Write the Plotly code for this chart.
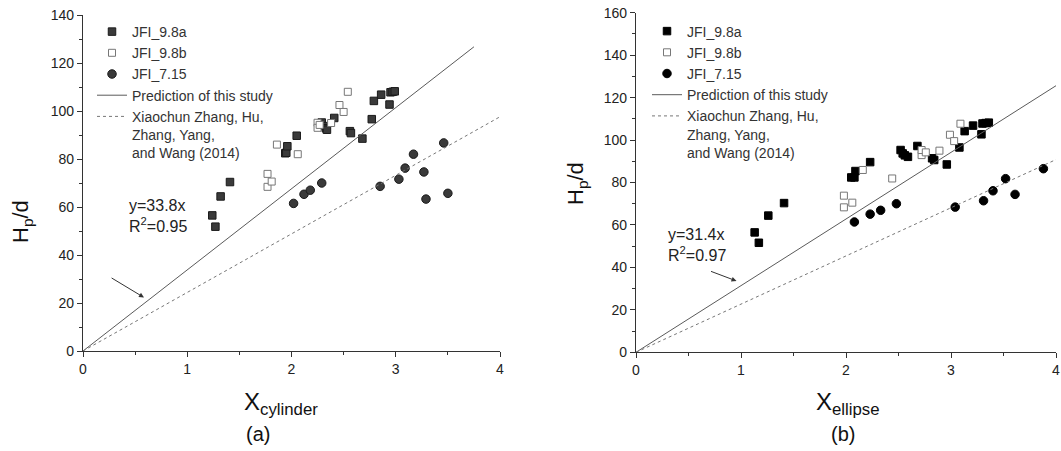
import plotly.graph_objects as go

W, H = 1061, 451
FONT = "Liberation Sans, Arial, sans-serif"

# ---------------- data : panel (a) ----------------
a_98a_x = [1.24, 1.27, 1.32, 1.41, 1.94, 1.95, 1.96, 2.05, 2.29, 2.31, 2.33, 2.34,
           2.41, 2.56, 2.57, 2.68, 2.77, 2.79, 2.86, 2.94, 2.95, 2.97, 2.99]
a_98a_y = [56.5, 51.8, 64.4, 70.4, 82.4, 82.6, 85.3, 89.7, 95.2, 93.7, 92.8, 92.2,
           97.1, 91.6, 90.8, 88.5, 96.6, 104.2, 106.8, 102.7, 107.8, 108.0, 108.2]
a_98b_x = [1.77, 1.77, 1.81, 1.86, 2.06, 2.25, 2.25, 2.27, 2.38, 2.46, 2.50, 2.54]
a_98b_y = [73.8, 68.4, 70.6, 86.0, 82.0, 95.1, 93.0, 94.2, 95.0, 102.5, 99.6, 108.0]
a_715_x = [2.02, 2.12, 2.18, 2.29, 2.85, 3.03, 3.09, 3.17, 3.27, 3.29, 3.46, 3.50]
a_715_y = [61.5, 65.3, 67.0, 70.0, 68.6, 71.6, 76.2, 82.0, 74.6, 63.3, 86.7, 65.7]
a_pred_x = [0, 3.75]
a_pred_y = [0, 126.75]
a_zhang_x = [0, 4]
a_zhang_y = [0, 97.6]

# ---------------- data : panel (b) ----------------
b_98a_x = [1.13, 1.17, 1.26, 1.41, 2.05, 2.08, 2.09, 2.23, 2.52, 2.54, 2.56, 2.59,
           2.68, 2.82, 2.84, 2.96, 3.08, 3.13, 3.21, 3.29, 3.30, 3.33, 3.36]
b_98a_y = [56.5, 51.6, 64.4, 70.3, 82.4, 82.4, 85.4, 89.6, 95.3, 93.7, 92.8, 92.1,
           97.2, 91.4, 90.6, 88.5, 96.5, 104.2, 106.8, 102.7, 107.8, 108.0, 108.2]
b_98b_x = [1.98, 1.98, 2.06, 2.16, 2.44, 2.72, 2.72, 2.76, 2.89, 2.99, 3.03, 3.09]
b_98b_y = [73.8, 68.3, 70.5, 85.9, 81.9, 92.9, 95.3, 94.2, 95.0, 102.5, 99.5, 107.7]
b_715_x = [2.08, 2.23, 2.33, 2.48, 3.04, 3.31, 3.40, 3.52, 3.61, 3.88]
b_715_y = [61.4, 65.1, 66.9, 70.0, 68.4, 71.4, 76.1, 81.8, 74.4, 86.5]
b_pred_x = [0, 4]
b_pred_y = [0, 125.6]
b_zhang_x = [0, 4]
b_zhang_y = [0, 90.8]

names = ["JFI_9.8a", "JFI_9.8b", "JFI_7.15", "Prediction of this study",
         "Xiaochun Zhang, Hu,<br>Zhang, Yang,<br>and Wang (2014)"]
eq_a = "y=33.8x<br>R<sup>2</sup>=0.95"
eq_b = "y=31.4x<br>R<sup>2</sup>=0.97"

fig = go.Figure()


def add_panel(xa, ya, leg, d98a, d98b, d715, pred, zhang, fill, edge):
    fig.add_trace(go.Scatter(x=d98a[0], y=d98a[1], mode="markers", name=names[0],
                             xaxis=xa, yaxis=ya, legend=leg,
                             marker=dict(symbol="square", size=7.5, color=fill,
                                         line=dict(color=edge, width=1))))
    fig.add_trace(go.Scatter(x=d98b[0], y=d98b[1], mode="markers", name=names[1],
                             xaxis=xa, yaxis=ya, legend=leg,
                             marker=dict(symbol="square", size=7, color="white",
                                         line=dict(color="#777777", width=1))))
    fig.add_trace(go.Scatter(x=d715[0], y=d715[1], mode="markers", name=names[2],
                             xaxis=xa, yaxis=ya, legend=leg,
                             marker=dict(symbol="circle", size=8.5, color=fill,
                                         line=dict(color=edge, width=1))))
    fig.add_trace(go.Scatter(x=pred[0], y=pred[1], mode="lines", name=names[3],
                             xaxis=xa, yaxis=ya, legend=leg,
                             line=dict(color="#5a5a5a", width=1)))
    fig.add_trace(go.Scatter(x=zhang[0], y=zhang[1], mode="lines", name=names[4],
                             xaxis=xa, yaxis=ya, legend=leg,
                             line=dict(color="#777777", width=1, dash="dot")))


add_panel("x", "y", "legend", (a_98a_x, a_98a_y), (a_98b_x, a_98b_y),
          (a_715_x, a_715_y), (a_pred_x, a_pred_y), (a_zhang_x, a_zhang_y),
          "#3a3a3a", "#1a1a1a")
add_panel("x2", "y2", "legend2", (b_98a_x, b_98a_y), (b_98b_x, b_98b_y),
          (b_715_x, b_715_y), (b_pred_x, b_pred_y), (b_zhang_x, b_zhang_y),
          "#000000", "#000000")


def axis(domain, rng, dtick, minor, anchor):
    return dict(domain=domain, range=rng, dtick=dtick, tick0=0, anchor=anchor,
                automargin=False,
                showgrid=False, zeroline=False, showline=True, linecolor="#333333",
                linewidth=1.2, ticks="outside", ticklen=5, tickcolor="#333333",
                tickwidth=1.2, tickfont=dict(family=FONT, size=14, color="#222222"),
                minor=dict(ticks="outside", ticklen=3, dtick=minor, tickcolor="#333333",
                           tickwidth=1, showgrid=False),
                fixedrange=True)


def px_x(p):
    return p / W


def px_y(p):
    return 1 - p / H


legend_common = dict(bgcolor="rgba(0,0,0,0)", valign="top", tracegroupgap=0,
                     itemwidth=30, xanchor="left", yanchor="top",
                     font=dict(family=FONT, size=14, color="#333333"))

fig.update_layout(
    width=W, height=H,
    margin=dict(l=0, r=0, t=0, b=0, autoexpand=False),
    paper_bgcolor="white", plot_bgcolor="white",
    font=dict(family=FONT, color="#222222"),
    xaxis=axis([px_x(83), px_x(500)], [0, 4], 1, 0.5, "y"),
    yaxis=axis([px_y(351), px_y(15)], [0, 140], 20, 10, "x"),
    xaxis2=axis([px_x(636), px_x(1056)], [0, 4], 1, 0.5, "y2"),
    yaxis2=axis([px_y(352.3), px_y(12.7)], [0, 160], 20, 10, "x2"),
    legend=dict(x=px_x(92), y=px_y(16), **legend_common),
    legend2=dict(x=px_x(647), y=px_y(15.5), **legend_common),
    showlegend=True,
)

ann = []
# equations
ann.append(dict(text=eq_a, x=px_x(127), y=px_y(216), xref="paper", yref="paper",
                xanchor="left", yanchor="middle", align="left", showarrow=False,
                font=dict(family=FONT, size=16, color="#222222")))
ann.append(dict(text=eq_b, x=px_x(666), y=px_y(245), xref="paper", yref="paper",
                xanchor="left", yanchor="middle", align="left", showarrow=False,
                font=dict(family=FONT, size=16, color="#222222")))
# arrows
ann.append(dict(x=0.585, y=22.3, ax=0.26, ay=30.8, xref="x", yref="y", axref="x", ayref="y",
                text="", showarrow=True, arrowhead=2, arrowsize=1, arrowwidth=1,
                arrowcolor="#333333"))
ann.append(dict(x=0.957, y=33.6, ax=0.70, ay=38.4, xref="x2", yref="y2", axref="x2", ayref="y2",
                text="", showarrow=True, arrowhead=2, arrowsize=1, arrowwidth=1,
                arrowcolor="#333333"))
# axis titles
ann.append(dict(text="X<sub>cylinder</sub>", x=px_x(281), y=px_y(403), xref="paper", yref="paper",
                xanchor="center", yanchor="middle", showarrow=False,
                font=dict(family=FONT, size=24, color="#111111")))
ann.append(dict(text="X<sub>ellipse</sub>", x=px_x(848), y=px_y(403), xref="paper", yref="paper",
                xanchor="center", yanchor="middle", showarrow=False,
                font=dict(family=FONT, size=24, color="#111111")))
ann.append(dict(text="H<sub>p</sub>/d", x=px_x(22), y=px_y(222), xref="paper", yref="paper",
                xanchor="center", yanchor="middle", showarrow=False, textangle=-90,
                font=dict(family=FONT, size=22, color="#111111")))
ann.append(dict(text="H<sub>p</sub>/d", x=px_x(577), y=px_y(184), xref="paper", yref="paper",
                xanchor="center", yanchor="middle", showarrow=False, textangle=-90,
                font=dict(family=FONT, size=22, color="#111111")))
# panel labels
ann.append(dict(text="(a)", x=px_x(258), y=px_y(434), xref="paper", yref="paper",
                xanchor="center", yanchor="middle", showarrow=False,
                font=dict(family=FONT, size=20, color="#111111")))
ann.append(dict(text="(b)", x=px_x(843), y=px_y(434), xref="paper", yref="paper",
                xanchor="center", yanchor="middle", showarrow=False,
                font=dict(family=FONT, size=20, color="#111111")))
fig.update_layout(annotations=ann)

fig.write_html(
    "out.html",
    config={"displayModeBar": False},
    post_script="document.body.style.margin='0px';document.body.style.overflow='hidden';",
)
